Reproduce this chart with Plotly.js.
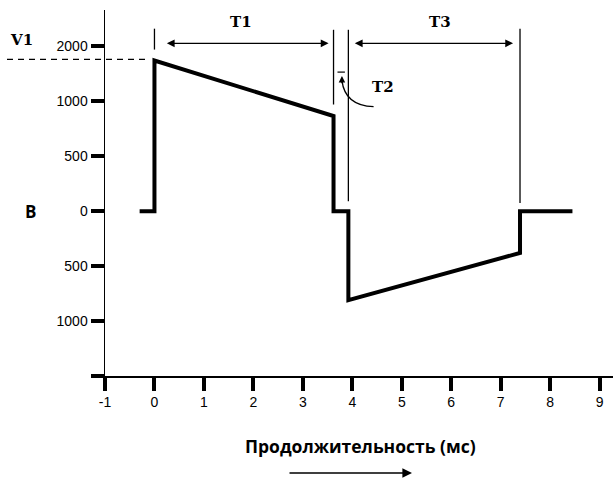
<!DOCTYPE html>
<html><head><meta charset="utf-8">
<script src="https://cdn.plot.ly/plotly-3.0.1.min.js"></script>
<style>body{margin:0;background:#fff}#c{width:613px;height:480px}</style>
</head><body><div id="c"></div>
<script>
// Pulse waveform (time in ms, voltage in V)
var timeMs = [-0.3, 0, 0, 3.62, 3.62, 3.92, 3.92, 7.39, 7.39, 8.45];
var volts  = [0, 0, 1370, 865, 0, 0, -810, -380, 0, 0];
var yTickVals = [-1500, -1000, -500, 0, 500, 1000, 1500];
var yTickText = ["", "1000", "500", "0", "500", "1000", "2000"];
var xTickVals = [-1, 0, 1, 2, 3, 4, 5, 6, 7, 8, 9];
var xTickText = ["-1", "0", "1", "2", "3", "4", "5", "6", "7", "8", "9"];
var phaseLabels = ["T1", "T2", "T3"];

var L = 105, W = 508, T = 10, H = 366;
function px(x){ return (x - L) / W; }
function py(y){ return (T + H - y) / H; }

var tStart = timeMs[2], tEnd1 = timeMs[3], tStart3 = timeMs[6], tEnd3 = timeMs[7];
var v1 = volts[2];
var black = "#000";
var serif = {family: "DejaVu Serif", size: 15, color: black, weight: "bold"};

var shapes = [
  {type:"line", xref:"x", yref:"y", x0:tStart, x1:tStart, y0:1470, y1:1660, line:{color:black,width:1.3}},
  {type:"line", xref:"x", yref:"y", x0:tEnd1, x1:tEnd1, y0:970, y1:1650, line:{color:black,width:1.3}},
  {type:"line", xref:"x", yref:"y", x0:tStart3, x1:tStart3, y0:90, y1:1650, line:{color:black,width:1.3}},
  {type:"line", xref:"x", yref:"y", x0:tEnd3, x1:tEnd3, y0:75, y1:1660, line:{color:black,width:1.3}},
  {type:"line", xref:"paper", yref:"y", x0:px(7), x1:px(150), y0:v1+10, y1:v1+10, line:{color:black,width:1.3,dash:"6px,5px"}},
  {type:"line", xref:"x", yref:"y", x0:3.70, x1:3.85, y0:1265, y1:1265, line:{color:black,width:1.2}},
  {type:"path", xref:"x", yref:"y", path:"M 4.43,950 Q 3.85,960 3.79,1190", line:{color:black,width:1.3}}
];

var annotations = [
  {xref:"x", yref:"y", x:tEnd1-0.1, y:1527, ax:tStart+0.22, ay:1527, axref:"x", ayref:"y", text:"", showarrow:true, arrowhead:2, arrowside:"end+start", arrowsize:1.2, arrowwidth:1.3, arrowcolor:black},
  {xref:"x", yref:"y", x:tEnd3-0.14, y:1527, ax:tStart3+0.1, ay:1527, axref:"x", ayref:"y", text:"", showarrow:true, arrowhead:2, arrowside:"end+start", arrowsize:1.2, arrowwidth:1.3, arrowcolor:black},
  {xref:"x", yref:"y", x:1.74, y:1720, text:phaseLabels[0], showarrow:false, font:serif, xanchor:"center", yanchor:"middle"},
  {xref:"x", yref:"y", x:4.63, y:1130, text:phaseLabels[1], showarrow:false, font:serif, xanchor:"center", yanchor:"middle"},
  {xref:"x", yref:"y", x:5.78, y:1720, text:phaseLabels[2], showarrow:false, font:serif, xanchor:"center", yanchor:"middle"},
  {xref:"x", yref:"y", x:3.79, y:1230, ax:3.79, ay:1150, axref:"x", ayref:"y", text:"", showarrow:true, arrowhead:2, arrowsize:1, arrowwidth:1.3, arrowcolor:black, standoff:0},
  {xref:"paper", yref:"paper", x:px(21), y:py(40), text:"V1", showarrow:false, font:serif, xanchor:"center", yanchor:"middle"},
  {xref:"paper", yref:"y", x:px(30), y:0, text:"B", showarrow:false, font:{family:"Open Sans", size:17, color:black, weight:"bold"}, xanchor:"center", yanchor:"middle"},
  {xref:"paper", yref:"paper", x:px(360), y:py(446), text:"Продолжительность (мс)", showarrow:false, font:{family:"Open Sans", size:17.5, color:black, weight:"bold"}, xanchor:"center", yanchor:"middle"},
  {xref:"paper", yref:"paper", x:px(412), y:py(473), ax:px(288), ay:py(473), axref:"paper", ayref:"paper", text:"", showarrow:true, arrowhead:2, arrowsize:1.2, arrowwidth:1.6, arrowcolor:black}
];

var trace = {x: timeMs, y: volts, type:"scatter", mode:"lines", line:{color:black, width:4}, hoverinfo:"skip"};

var layout = {
  width: 613, height: 480,
  margin: {l: L, r: 0, t: T, b: 480 - T - H},
  paper_bgcolor: "#fff", plot_bgcolor: "#fff",
  showlegend: false,
  xaxis: {range: [-1, 9.27], tickvals: xTickVals, ticktext: xTickText, ticks: "outside", ticklen: 13, tickwidth: 4, tickcolor: black,
          showline: true, linecolor: black, linewidth: 1.5, showgrid: false, zeroline: false,
          tickfont: {family: "Liberation Sans", size: 14, color: black}},
  yaxis: {range: [-1500, 1830], tickvals: yTickVals, ticktext: yTickText, ticks: "outside", ticklen: 13, tickwidth: 4, tickcolor: black,
          showline: true, linecolor: black, linewidth: 1.5, showgrid: false, zeroline: false,
          tickfont: {family: "Liberation Sans", size: 14, color: black}},
  shapes: shapes,
  annotations: annotations
};
Plotly.newPlot("c", [trace], layout, {displayModeBar: false, staticPlot: true});
</script></body></html>
